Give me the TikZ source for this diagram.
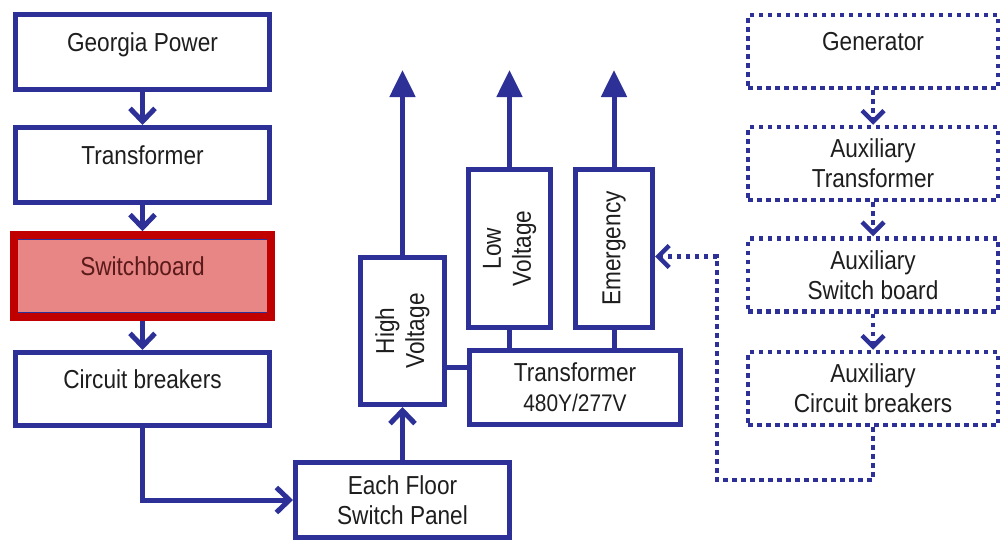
\documentclass[tikz,border=0pt]{standalone}
\usepackage{fontspec}
\setmainfont{Liberation Sans}[FakeStretch=0.87]
\usetikzlibrary{arrows.meta,fit}
\definecolor{wire}{HTML}{2D3096}
\definecolor{alarm}{HTML}{C00000}
\definecolor{alarmfill}{HTML}{E88585}
\definecolor{alarmtext}{HTML}{5A1A1A}
\definecolor{txt}{HTML}{1E1E1E}

\begin{document}
\begin{tikzpicture}[
 x=1pt,y=-1pt,
 every node/.style={align=center,font=\fontsize{26}{30}\selectfont,text=txt},
 eframe/.style={draw=wire,line width=5pt,fill=white,inner sep=0pt},
 ebox/.style={eframe,minimum width=254pt,minimum height=75pt,
 text height=18pt,text depth=20pt},
 ewide/.style={eframe,minimum width=214pt,minimum height=75pt},
 evert/.style={eframe,rotate=90,minimum width=158pt},
 eaux/.style={draw=wire,line width=4.5pt,dash pattern=on 4.5pt off 4.5pt,fill=white,
 minimum width=250pt,minimum height=73pt,inner sep=0pt},
 eswitch/.style={draw=wire,line width=1.5pt,fill=alarmfill,text=alarmtext,
 minimum width=250pt,minimum height=74pt,inner sep=0pt,
 text height=18pt,text depth=20pt},
 eflag/.style={draw=alarm,line width=8pt,inner sep=3pt},
 ewire/.style={draw=wire,line width=5pt},
 eflow/.style={ewire,-{Straight Barb[length=13pt,width=25pt]}},
 erise/.style={ewire,-{Triangle[length=27pt,width=25pt]}},
 edot/.style={draw=wire,line width=4.5pt,dash pattern=on 4.5pt off 4.5pt,
 -{Straight Barb[length=11pt,width=22pt]}}]
\useasboundingbox[fill=white] (0,0) rectangle (1004,544);
% utility supply
\node[ebox] (gp) at (142.5,52) {Georgia Power};
\node[ebox] (tr) at (142.5,165) {Transformer};
\node[eswitch] (swb) at (142.5,276) {Switchboard};
\node[eflag,fit=(swb)] (swbflag) {};
\node[ebox,minimum height=73pt] (cb) at (142.5,389) {Circuit breakers};
% building distribution
\node[ewide] (floor) at (402.5,500) {Each Floor\\Switch Panel};
\node[evert,minimum width=147pt,minimum height=84pt] (hv) at (402.5,331) {High\\Voltage};
\node[evert,minimum height=82pt] (lv) at (509.5,248.5) {Low\\Voltage};
\node[evert,minimum height=77pt] (em) at (614,248.5) {Emergency};
\node[eframe,minimum width=211pt,minimum height=74pt] (t480) at (575,387.5)
 {Transformer\\{\fontsize{24}{32}\selectfont 480Y/277V}};
% standby supply
\node[eaux,text height=18pt,text depth=20pt] (gen) at (873,51.5) {Generator};
\node[eaux] (atr) at (873,163.5) {Auxiliary\\Transformer};
\node[eaux] (asw) at (873,275) {Auxiliary\\Switch board};
\node[eaux] (acb) at (873,388.5) {Auxiliary\\Circuit breakers};
\coordinate (sky) at (0,70);
\coordinate (loop) at (717,480);
\path ([yshift=20pt]t480.west) coordinate (tin);
\path ([yshift=-8pt]em.south) coordinate (ein);
\draw[eflow] (gp.south) -- (tr.north);
\draw[eflow] (tr.south) -- (swbflag.north);
\draw[eflow] (swbflag.south) -- (cb.north);
\draw[eflow] (cb.south) |- (floor.west);
\draw[eflow] (floor.north) -- (hv.west);
\draw[erise] (hv.east) -- (hv.east |- sky);
\draw[erise] (lv.east) -- (lv.east |- sky);
\draw[erise] (em.east) -- (em.east |- sky);
\draw[ewire] (lv.west) -- (lv.west |- t480.north);
\draw[ewire] (em.west) -- (em.west |- t480.north);
\draw[ewire] (tin) -- (tin -| hv.south);
\draw[edot] (gen.south) -- (atr.north);
\draw[edot] (atr.south) -- (asw.north);
\draw[edot] (asw.south) -- (acb.north);
\draw[edot] (acb.south) |- (loop) |- (ein);
\end{tikzpicture}
\end{document}
